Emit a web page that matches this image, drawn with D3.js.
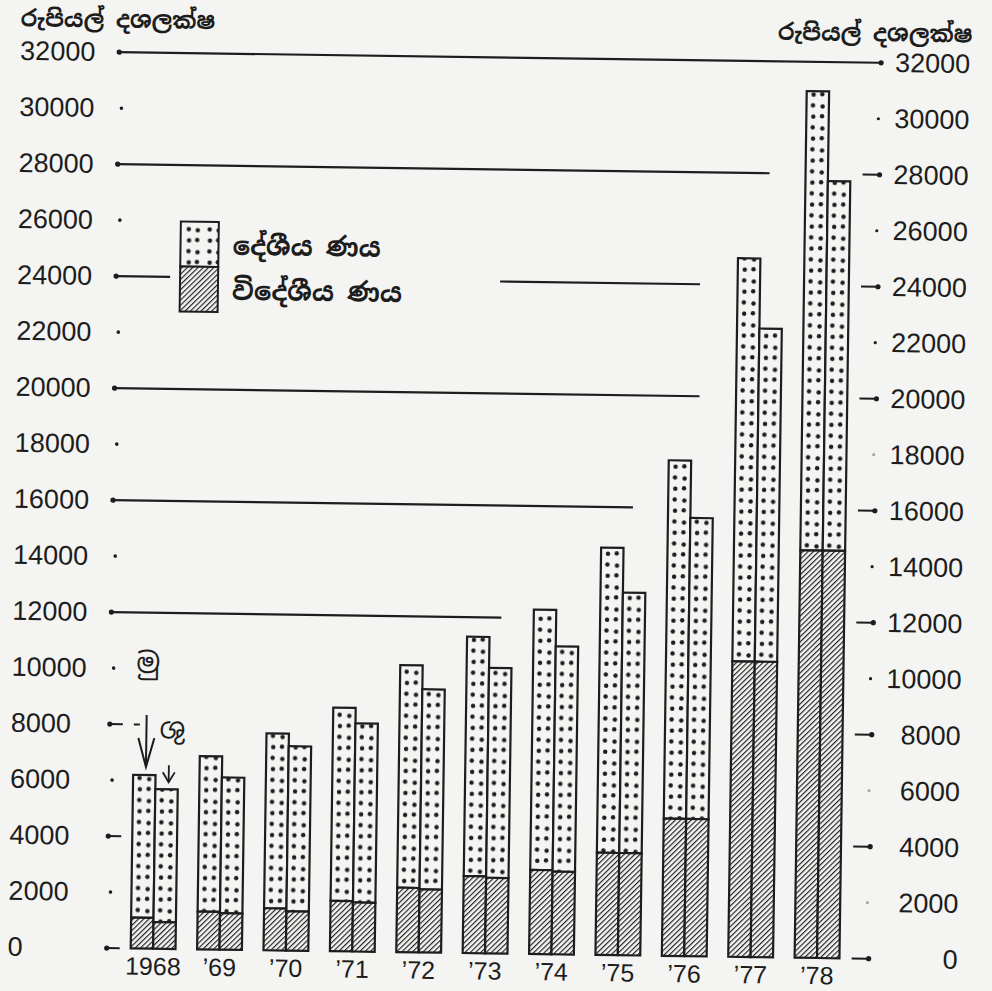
<!DOCTYPE html>
<html><head><meta charset="utf-8">
<script src="https://cdn.jsdelivr.net/npm/d3@7"></script>
<style>
html,body{margin:0;padding:0;background:#f4f4f2;}
svg{display:block;}
</style>
</head><body>
<svg id="chart" width="992" height="991"></svg>
<script>
// ---------------- data ----------------
const years = ['1968', '\u201969', '\u201970', '\u201971', '\u201972', '\u201973', '\u201974', '\u201975', '\u201976', '\u201977', '\u201978'];
// gross debt (first bar of each year)
const grossForeign  = [1100, 1350, 1500, 1800, 2300, 2750, 3000, 3650, 4900, 10550, 14550];
const grossDomestic = [5100, 5550, 6250, 6900, 7950, 8550, 9300, 10900, 12800, 14400, 16400];
// net debt (second bar of each year)
const netForeign    = [950, 1300, 1400, 1750, 2250, 2700, 2950, 3650, 4900, 10550, 14550];
const netDomestic   = [4750, 4850, 5900, 6400, 7150, 7500, 8050, 9300, 10750, 11900, 13200];
const tickValues = [0, 2000, 4000, 6000, 8000, 10000, 12000, 14000, 16000, 18000, 20000, 22000, 24000, 26000, 28000, 30000, 32000];
const unitLabel = 'රුපියල් දශලක්ෂ';
const legendLabels = ['දේශීය ණය', 'විදේශීය ණය'];
const barLabels = ['මු', 'ශු'];

// ---------------- drawing ----------------
const INK = '#1d1d1d', PAPER = '#f4f4f2';
const SIN = "'Noto Sans Sinhala','Noto Serif Sinhala','Iskoola Pota','Noto Sans',sans-serif";
const NUM = "'Liberation Sans','DejaVu Sans',sans-serif";

const svg = d3.select('#chart');
const defs = svg.append('defs');

const hatch = defs.append('pattern').attr('id', 'hatch')
  .attr('patternUnits', 'userSpaceOnUse').attr('width', 3.7).attr('height', 10)
  .attr('patternTransform', 'rotate(45)');
hatch.append('rect').attr('width', 3.7).attr('height', 10).attr('fill', PAPER);
hatch.append('line').attr('x1', 0.6).attr('x2', 0.6).attr('y1', 0).attr('y2', 10)
  .attr('stroke', INK).attr('stroke-width', 1.15);

function dotPattern(id, px, py, w) {
  const p = defs.append('pattern').attr('id', id).attr('patternUnits', 'userSpaceOnUse')
    .attr('x', px).attr('y', py).attr('width', w).attr('height', 22);
  p.append('rect').attr('width', w).attr('height', 22).attr('fill', PAPER);
  [[w * 0.29, 5.5], [w * 0.72, 6.5], [w * 0.31, 16.8], [w * 0.70, 16.2]].forEach(([cx, cy]) =>
    p.append('circle').attr('cx', cx).attr('cy', cy).attr('r', 2.2).attr('fill', INK));
}

const g = svg.append('g').attr('transform', 'rotate(0.8,500,500)');

const y = d3.scaleLinear().domain([0, 32000]).range([953.5, 57.5]);
const x0 = d3.scaleBand().domain(years).range([137, 845.8]).paddingInner(0.325).paddingOuter(0);
const x1 = d3.scaleBand().domain(['gross', 'net']).range([0, x0.bandwidth()]);
const bw = x1.bandwidth();

const LEFT = 113, RIGHT = 875;

// partial horizontal rules
const gridRuns = [
  {v: 32000, segs: [[LEFT, RIGHT - 2]]},
  {v: 28000, segs: [[LEFT, 765]]},
  {v: 24000, segs: [[LEFT, 167], [497, 697]]},
  {v: 20000, segs: [[LEFT, 698]]},
  {v: 16000, segs: [[LEFT, 633]]},
  {v: 12000, segs: [[LEFT, 503]]}
];
gridRuns.forEach(r => r.segs.forEach(s =>
  g.append('line').attr('x1', s[0]).attr('x2', s[1]).attr('y1', y(r.v)).attr('y2', y(r.v))
    .attr('stroke', INK).attr('stroke-width', 2.2)));
const ruled = new Set(gridRuns.map(r => r.v));

// left markers
tickValues.forEach(v => {
  if (v % 4000 === 0) {
    g.append('circle').attr('cx', LEFT).attr('cy', y(v)).attr('r', 2.6).attr('fill', INK);
    if (!ruled.has(v)) {
      g.append('line').attr('x1', LEFT).attr('x2', LEFT + 13).attr('y1', y(v)).attr('y2', y(v))
        .attr('stroke', INK).attr('stroke-width', 2);
    }
  } else {
    g.append('circle').attr('cx', LEFT + 3).attr('cy', y(v)).attr('r', 1.8).attr('fill', INK);
  }
});
g.append('line').attr('x1', 137).attr('x2', 143).attr('y1', y(8000)).attr('y2', y(8000))
  .attr('stroke', INK).attr('stroke-width', 2);

// right markers
tickValues.forEach(v => {
  if (v % 4000 === 0) {
    g.append('circle').attr('cx', RIGHT).attr('cy', y(v)).attr('r', 2.6).attr('fill', INK);
    if (v !== 32000) {
      g.append('line').attr('x1', RIGHT - 17).attr('x2', RIGHT).attr('y1', y(v)).attr('y2', y(v))
        .attr('stroke', INK).attr('stroke-width', 2);
    }
  } else {
    g.append('circle').attr('cx', RIGHT - 2).attr('cy', y(v)).attr('r', 1.6).attr('fill', INK)
      .attr('opacity', (v === 18000 || v === 6000 || v === 2000) ? 0.35 : 1);
  }
});

// axes labels
const styleAxis = sel => {
  sel.select('.domain').remove();
  sel.attr('font-family', NUM).attr('font-size', 27);
  sel.selectAll('text').attr('fill', INK);
};
g.append('g').attr('transform', 'translate(14,0)')
  .call(d3.axisLeft(y).tickValues(tickValues).tickSize(0).tickPadding(0).tickFormat(d3.format('d')))
  .call(styleAxis)
  .selectAll('text').attr('text-anchor', 'start').attr('x', 0);
g.append('g').attr('transform', 'translate(964,0)')
  .call(d3.axisRight(y).tickValues(tickValues).tickSize(0).tickPadding(0).tickFormat(d3.format('d')))
  .call(styleAxis)
  .selectAll('text').attr('text-anchor', 'end').attr('x', 0);

g.append('g').attr('transform', 'translate(0,962)')
  .call(d3.axisBottom(x0).tickSize(0).tickPadding(0))
  .call(sel => { sel.select('.domain').remove(); sel.attr('font-family', NUM).attr('font-size', 25); sel.selectAll('text').attr('fill', INK); });

// bars
const rows = years.map((yr, i) => ({
  year: yr, i,
  bars: [
    {key: 'gross', foreign: grossForeign[i], domestic: grossDomestic[i]},
    {key: 'net', foreign: netForeign[i], domestic: netDomestic[i]}
  ]
}));
rows.forEach(r => r.bars.forEach((b, k) => {
  const bx = x0(r.year) + x1(b.key);
  const id = 'dots' + r.i + '_' + k;
  dotPattern(id, bx, y(0), bw);
  const total = b.foreign + b.domestic;
  g.append('rect').attr('x', bx).attr('y', y(total)).attr('width', bw).attr('height', y(b.foreign) - y(total))
    .attr('fill', 'url(#' + id + ')').attr('stroke', INK).attr('stroke-width', 2.2);
  g.append('rect').attr('x', bx).attr('y', y(b.foreign)).attr('width', bw).attr('height', y(0) - y(b.foreign))
    .attr('fill', 'url(#hatch)').attr('stroke', INK).attr('stroke-width', 2.2);
}));

// annotation arrows for first year
const a1x = x0(years[0]) + x1('gross') + bw / 2 + 1.5;
const t1 = y(grossForeign[0] + grossDomestic[0]) - 8;
g.append('line').attr('x1', a1x).attr('x2', a1x).attr('y1', t1 - 52).attr('y2', t1).attr('stroke', INK).attr('stroke-width', 2);
g.append('path').attr('d', `M${a1x - 8},${t1 - 29}L${a1x},${t1}L${a1x + 8},${t1 - 29}`).attr('fill', 'none').attr('stroke', INK).attr('stroke-width', 2);
g.append('text').attr('x', a1x + 1).attr('y', t1 - 104).attr('text-anchor', 'middle').attr('dominant-baseline', 'central')
  .attr('font-family', SIN).attr('font-size', 28).attr('fill', INK).text(barLabels[0]);

const a2x = x0(years[0]) + x1('net') + bw / 2 + 2;
const t2 = y(netForeign[0] + netDomestic[0]) - 7;
g.append('line').attr('x1', a2x).attr('x2', a2x).attr('y1', t2 - 17).attr('y2', t2).attr('stroke', INK).attr('stroke-width', 1.8);
g.append('path').attr('d', `M${a2x - 6},${t2 - 10}L${a2x},${t2}L${a2x + 6},${t2 - 10}`).attr('fill', 'none').attr('stroke', INK).attr('stroke-width', 1.8);
g.append('text').attr('x', a2x + 3).attr('y', t2 - 54).attr('text-anchor', 'middle').attr('dominant-baseline', 'central')
  .attr('font-family', SIN).attr('font-size', 28).attr('fill', INK).text(barLabels[1]);

// unit titles
g.append('text').attr('x', 14).attr('y', 25).attr('dominant-baseline', 'central')
  .attr('font-family', SIN).attr('font-size', 23).attr('font-weight', 'bold').attr('fill', INK).text(unitLabel);
g.append('text').attr('x', 966).attr('y', 28).attr('text-anchor', 'end').attr('dominant-baseline', 'central')
  .attr('font-family', SIN).attr('font-size', 23).attr('font-weight', 'bold').attr('fill', INK).text(unitLabel);

// legend
const LX = 177, LY = 226, LW = 38, LH = 45;
dotPattern('legdots', LX + 2, LY + 2, LW * 0.55);
g.append('rect').attr('x', LX).attr('y', LY).attr('width', LW).attr('height', LH)
  .attr('fill', 'url(#legdots)').attr('stroke', INK).attr('stroke-width', 2);
g.append('rect').attr('x', LX).attr('y', LY + LH).attr('width', LW).attr('height', LH)
  .attr('fill', 'url(#hatch)').attr('stroke', INK).attr('stroke-width', 2);
legendLabels.forEach((t, i) =>
  g.append('text').attr('x', LX + 52).attr('y', LY + LH / 2 + i * LH + 1).attr('dominant-baseline', 'central')
    .attr('font-family', SIN).attr('font-size', 26).attr('font-weight', 'bold').attr('fill', INK).text(t));
</script>
</body></html>
